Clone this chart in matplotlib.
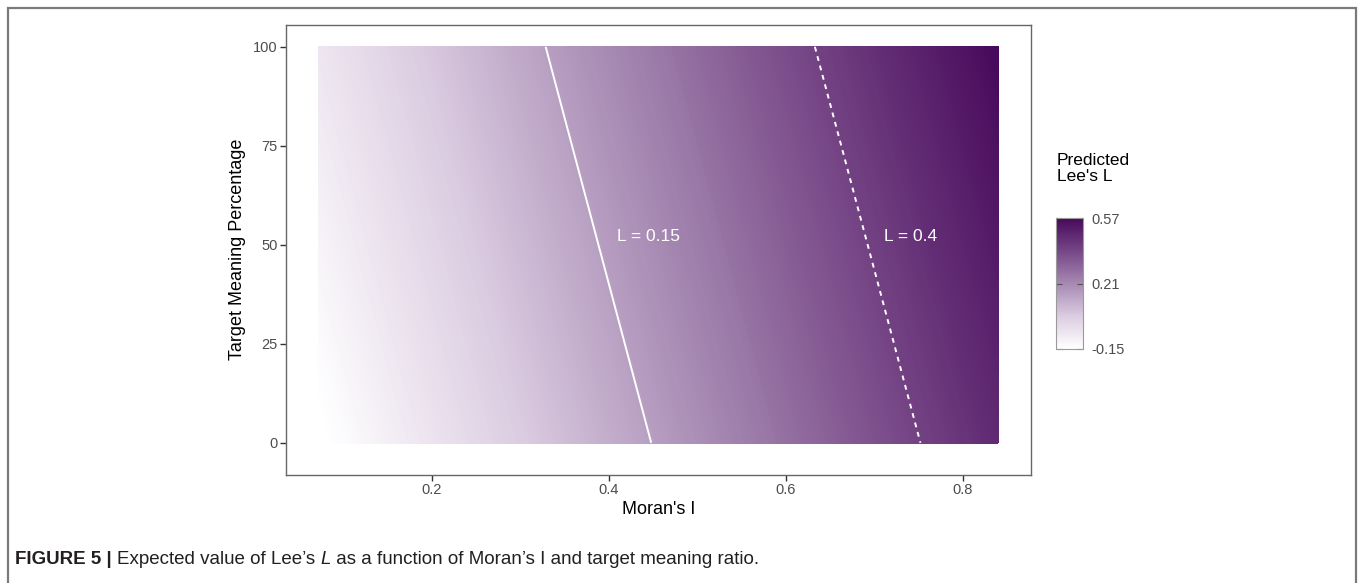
import numpy as np
import matplotlib
matplotlib.use('Agg')
import matplotlib.pyplot as plt
from matplotlib.colors import LinearSegmentedColormap, Normalize
from matplotlib.patches import Rectangle

plt.rcParams['font.family'] = ['Liberation Sans', 'DejaVu Sans']

moran_i = [0.072, 0.84]
target_pct = [0, 100]
lees_l = [[-0.159, 0.472],   # target 0 %
          [-0.061, 0.570]]   # target 100 %

contour_levels = [0.15, 0.4]
contour_styles = ['solid', (0, (2.5, 2.5))]
contour_labels = ['L = 0.15', 'L = 0.4']
label_x = [0.445, 0.741]
label_y = [52, 52]

cbar_ticks = [-0.15, 0.21, 0.57]
cbar_labels = ['-0.15', '0.21', '0.57']
x_ticks = [0.2, 0.4, 0.6, 0.8]
y_ticks = [0, 25, 50, 75, 100]

W, H = 1360, 583
fig = plt.figure(figsize=(W / 100, H / 100), dpi=100)

# outer frame of the journal figure
fig.patches.append(Rectangle((8 / W, -0.2), (1355.5 - 8) / W, 1.2 - 8 / H,
                             transform=fig.transFigure, fill=False,
                             edgecolor='#7a7a7a', lw=1.6, clip_on=False))

ax = fig.add_axes([285.7 / W, (H - 474.5) / H, 745 / W, 449.5 / H])

cmap = LinearSegmentedColormap.from_list(
    'lee', ['#ffffff', '#dbcce1', '#a689b2', '#764686', '#47095b'])
norm = Normalize(vmin=-0.15, vmax=0.57)

X, Y = np.meshgrid(moran_i, target_pct)
Z = np.array(lees_l)
cf = ax.contourf(X, Y, Z, levels=np.linspace(-0.17, 0.58, 200),
                 cmap=cmap, norm=norm)
cf.set_edgecolor('face')
cf.set_linewidth(0.3)

ax.contour(X, Y, Z, levels=contour_levels, colors='white',
           linewidths=1.4, linestyles=contour_styles)
for lab, lx, ly in zip(contour_labels, label_x, label_y):
    ax.text(lx, ly, lab, color='white', fontsize=12.5, ha='center', va='center')

ax.set_xlim(0.035, 0.877)
ax.set_ylim(-8.0, 105.5)
ax.set_xticks(x_ticks)
ax.set_xticklabels([str(t) for t in x_ticks])
ax.set_yticks(y_ticks)
ax.tick_params(length=4, width=1, color='#333333', labelcolor='#4d4d4d',
               labelsize=10.5, pad=2)
for s in ax.spines.values():
    s.set_color('#666666')
    s.set_linewidth(1)
ax.set_xlabel("Moran's I", fontsize=13, labelpad=3)
ax.set_ylabel('Target Meaning Percentage', fontsize=13, labelpad=5)

# colour bar
cax = fig.add_axes([1056 / W, (H - 349) / H, 27 / W, 131 / H])
sm = plt.cm.ScalarMappable(norm=norm, cmap=cmap)
cb = fig.colorbar(sm, cax=cax, ticks=cbar_ticks)
cb.set_ticklabels(cbar_labels)
cb.outline.set_edgecolor('#9a9a9a')
cb.outline.set_linewidth(0.8)
cax.tick_params(direction='in', length=4, width=0.8, color='#555555',
                labelcolor='#4d4d4d', labelsize=10.5, pad=6, left=True)
fig.text(1057 / W, 1 - 153 / H, "Predicted\nLee's L", fontsize=12.5,
         va='top', ha='left', linespacing=1.05)

# caption
cap_font = ['Liberation Sans', 'DejaVu Sans']
pieces = [('FIGURE 5 | ', 'bold', 'normal'),
          ("Expected value of Lee\u2019s ", 'normal', 'normal'),
          ('L', 'normal', 'italic'),
          (' as a function of Moran\u2019s I and target meaning ratio.', 'normal', 'normal')]
renderer = fig.canvas.get_renderer()
xpos = 15
for txt, wt, st in pieces:
    t = fig.text(xpos / W, 1 - 560 / H, txt, fontsize=13.5, fontweight=wt,
                 fontstyle=st, family=cap_font, va='center', ha='left',
                 color='#231f20')
    bb = t.get_window_extent(renderer)
    xpos += bb.width

fig.savefig('out.png', dpi=100)
